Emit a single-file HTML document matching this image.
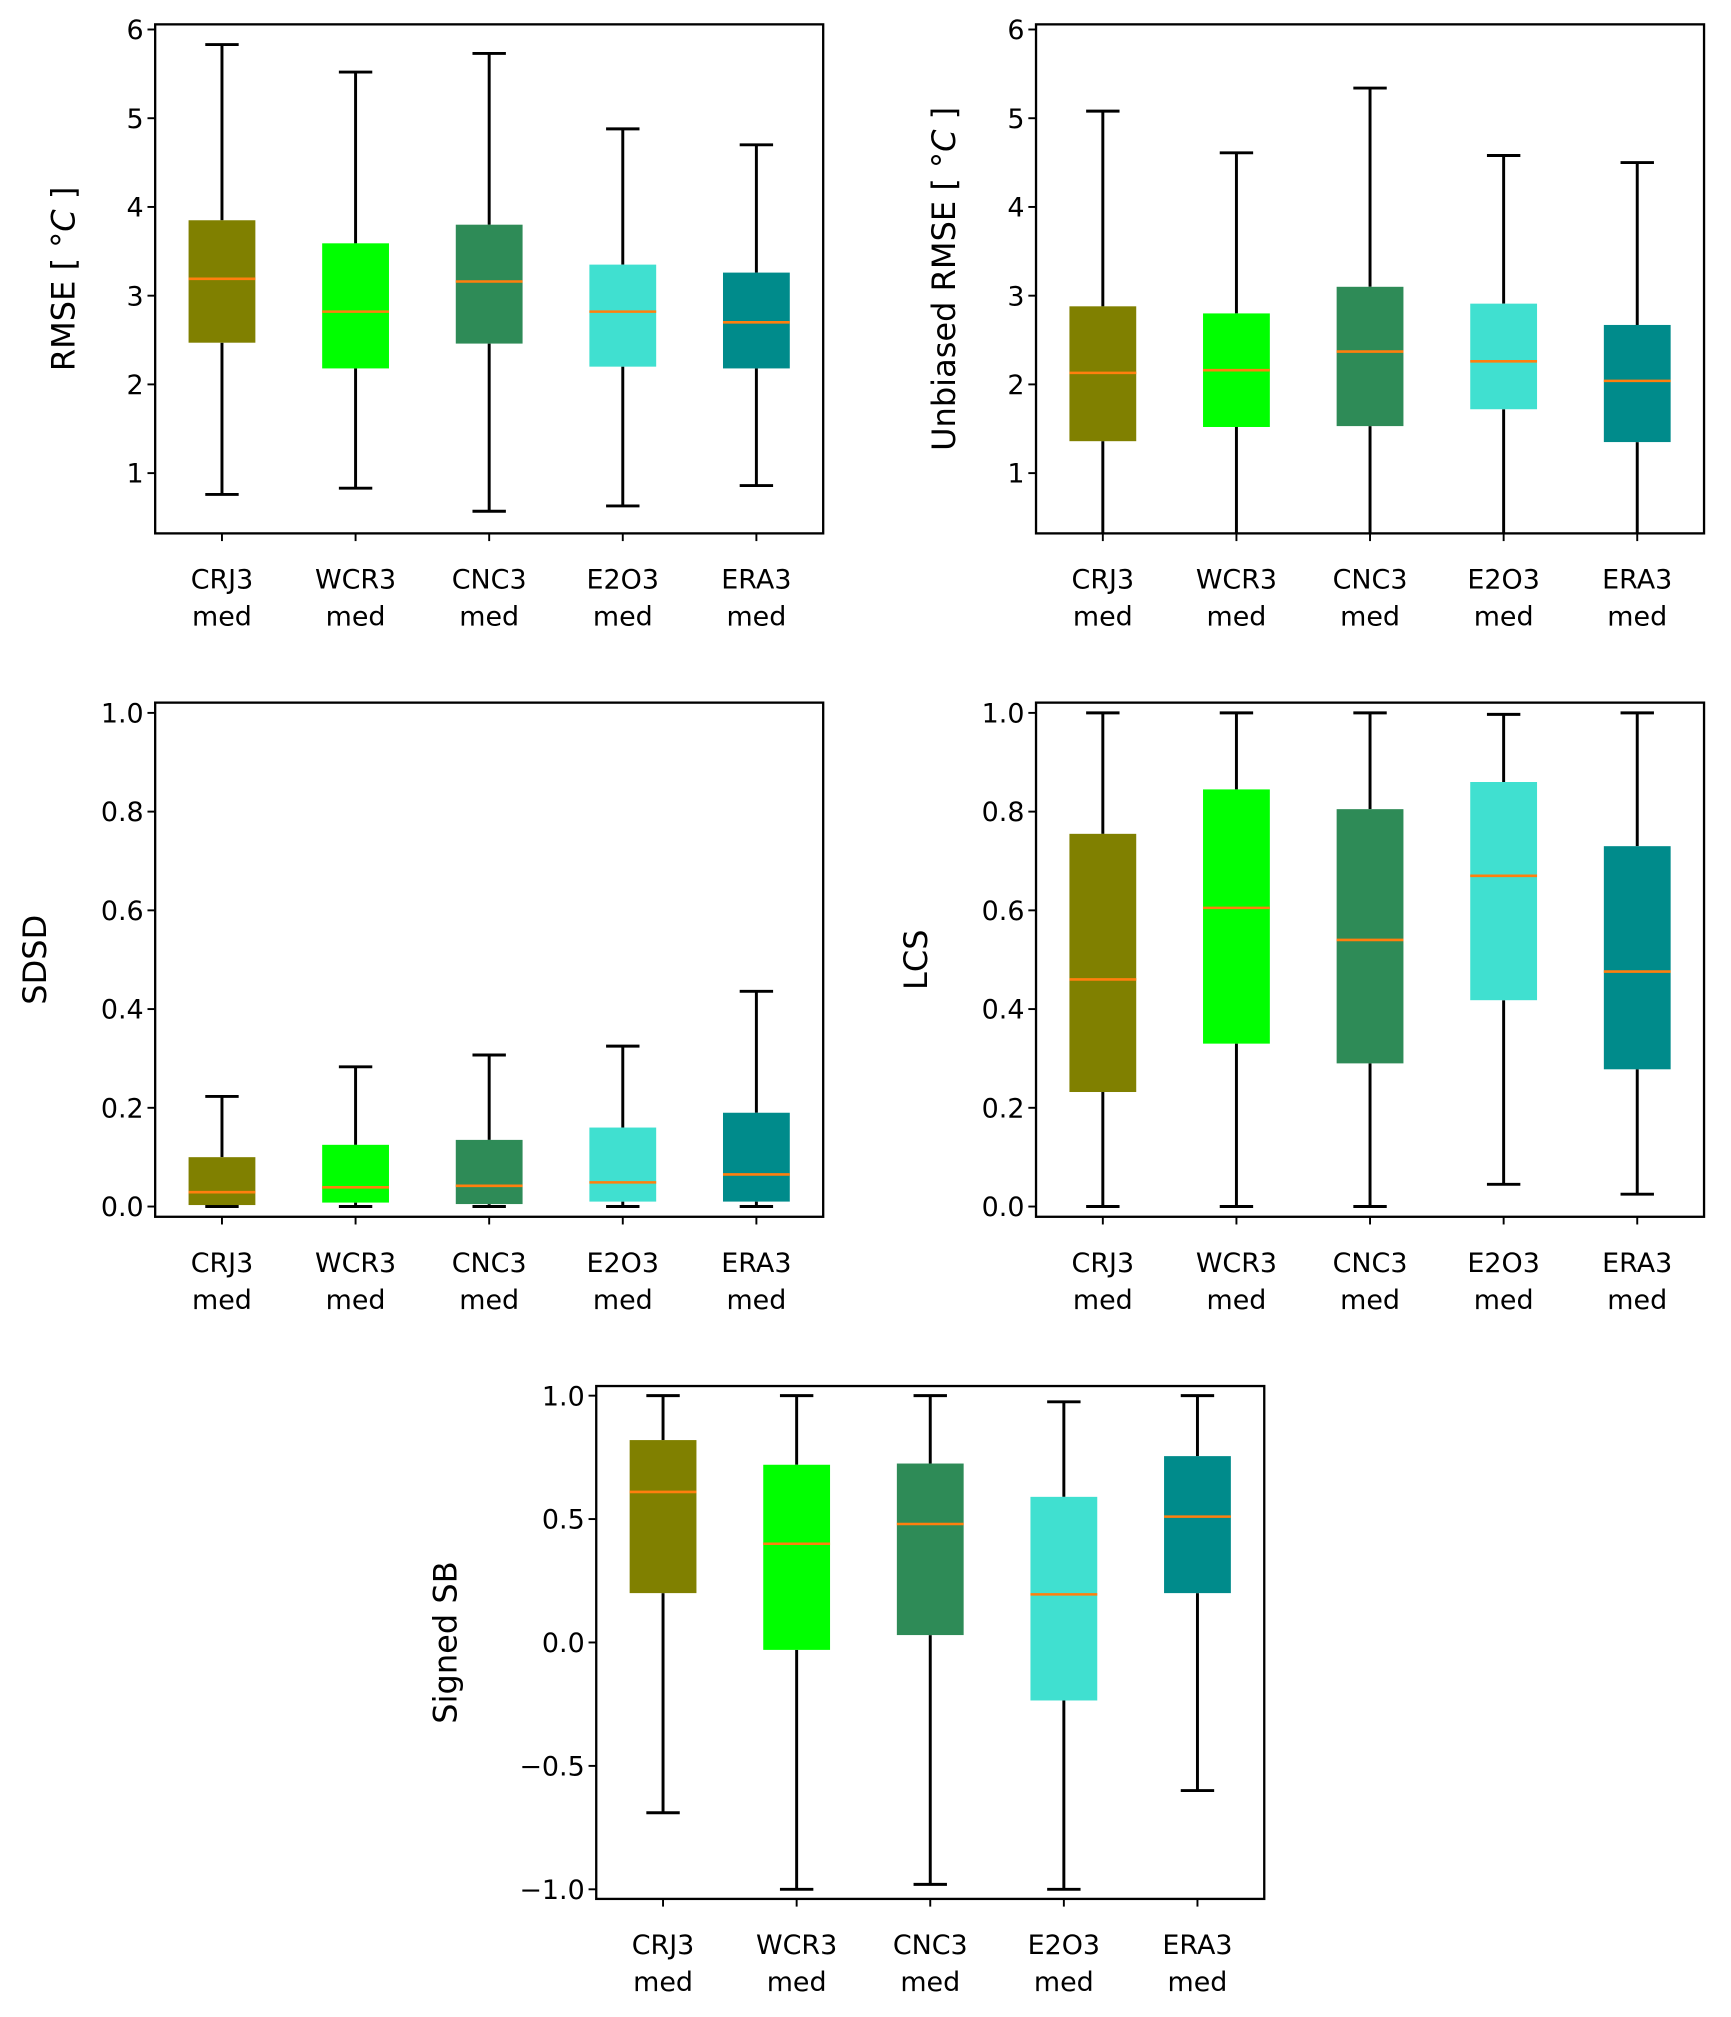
<!DOCTYPE html>
<html><head><meta charset="utf-8"><style>
html,body{margin:0;padding:0;background:#fff}
svg{display:block}
text{font-family:"DejaVu Sans","Liberation Sans",sans-serif;fill:#000}
</style></head><body>
<svg id="fig" xmlns="http://www.w3.org/2000/svg" width="1731" height="2017" viewBox="0 0 1350 1573.1"></svg>
<script>
const categories = ["CRJ3", "WCR3", "CNC3", "E2O3", "ERA3"];
const colors = ["#808000", "#00ff00", "#2e8b57", "#40e0d0", "#008b8b"];
// [whiskerLow, q1, median, q3, whiskerHigh]
const rmseValues = [[0.76,2.47,3.19,3.85,5.83],[0.83,2.18,2.82,3.59,5.52],[0.57,2.46,3.16,3.80,5.73],[0.63,2.20,2.82,3.35,4.88],[0.86,2.18,2.70,3.26,4.70]];
const ubrmseValues = [[0.05,1.36,2.13,2.88,5.08],[0.05,1.52,2.16,2.80,4.61],[0.05,1.53,2.37,3.10,5.34],[0.05,1.72,2.26,2.91,4.58],[0.05,1.35,2.04,2.67,4.50]];
const sdsdValues = [[0.0,0.003,0.029,0.10,0.223],[0.0,0.008,0.039,0.125,0.283],[0.0,0.005,0.042,0.135,0.307],[0.0,0.01,0.049,0.16,0.325],[0.0,0.01,0.065,0.19,0.436]];
const lcsValues = [[0.0,0.232,0.46,0.755,1.0],[0.0,0.33,0.605,0.845,1.0],[0.0,0.29,0.54,0.805,1.0],[0.045,0.418,0.67,0.86,0.997],[0.025,0.278,0.476,0.73,1.0]];
const sbValues = [[-0.69,0.2,0.61,0.82,1.0],[-1.0,-0.03,0.40,0.72,1.0],[-0.98,0.03,0.48,0.725,1.0],[-1.0,-0.235,0.195,0.59,0.975],[-0.6,0.2,0.51,0.755,1.0]];
const rmseTicks = ["1","2","3","4","5","6"];
const unitTicks = ["0.0","0.2","0.4","0.6","0.8","1.0"];
const sbTicks = ["\u22121.0","\u22120.5","0.0","0.5","1.0"];

const NS="http://www.w3.org/2000/svg";
const fig=document.getElementById('fig');
function mk(tag,attrs,parent){const e=document.createElementNS(NS,tag);for(const k in attrs)e.setAttribute(k,attrs[k]);(parent||fig).appendChild(e);return e;}

function panel(id,L,T,W,H,ymin,ymax,tickVals,tickLabs,vals,ylabel,labelX){
  const g=mk('g',{});
  
  
  const y=v=>T+H-(v-ymin)/(ymax-ymin)*H;
  const x=i=>L+(i+1-0.5)/5*W;
  const cp=mk('clipPath',{id:'clip-'+id},g);
  mk('rect',{x:L,y:T,width:W,height:H},cp);
  const plot=mk('g',{'clip-path':'url(#clip-'+id+')'},g);
  vals.forEach((v,i)=>{
    const cx=x(i),bw=W/5*0.5,cw=W/5*0.25;
    const bg=mk('g',{},plot);
    
    
    mk('line',{x1:cx,x2:cx,y1:y(v[0]),y2:y(v[1]),stroke:'#000','stroke-width':2.3},bg);
    mk('line',{x1:cx,x2:cx,y1:y(v[3]),y2:y(v[4]),stroke:'#000','stroke-width':2.3},bg);
    mk('line',{x1:cx-cw/2,x2:cx+cw/2,y1:y(v[0]),y2:y(v[0]),stroke:'#000','stroke-width':2.3},bg);
    mk('line',{x1:cx-cw/2,x2:cx+cw/2,y1:y(v[4]),y2:y(v[4]),stroke:'#000','stroke-width':2.3},bg);
    mk('rect',{x:cx-bw/2,y:y(v[3]),width:bw,height:y(v[1])-y(v[3]),fill:colors[i]},bg);
    mk('line',{x1:cx-bw/2,x2:cx+bw/2,y1:y(v[2]),y2:y(v[2]),stroke:'#ff7f0e','stroke-width':2},bg);
  });
  const fr=mk('rect',{x:L,y:T,width:W,height:H,fill:'none',stroke:'#000','stroke-width':1.8},g);
  
  
  tickVals.forEach((tv,k)=>{
    const yy=y(tv);
    mk('line',{x1:L-6,x2:L,y1:yy,y2:yy,stroke:'#000','stroke-width':1.5},g);
    const t=mk('text',{x:L-9,y:yy+7.5,'text-anchor':'end','font-size':21},g);
    t.textContent=tickLabs[k];
    
    
  });
  categories.forEach((c,i)=>{
    const cx=x(i);
    mk('line',{x1:cx,x2:cx,y1:T+H,y2:T+H+6,stroke:'#000','stroke-width':1.5},g);
    const t1=mk('text',{x:cx,y:T+H+43,'text-anchor':'middle','font-size':21},g);
    t1.textContent=c;
    
    
    const t2=mk('text',{x:cx,y:T+H+72,'text-anchor':'middle','font-size':21},g);
    t2.textContent='med';
    
    
  });
  const yl=mk('text',{x:labelX,y:T+H/2,'text-anchor':'middle','font-size':25,transform:'rotate(-90 '+labelX+' '+(T+H/2)+')'},g);
  yl.innerHTML=ylabel;
  
  
}
const p1=[1,2,3,4,5,6];
panel('rmse',121,19,521,397,1-(416-369)/69.2,1+(369-19)/69.2,p1,rmseTicks,rmseValues,'RMSE [ <tspan font-style="italic">°C</tspan> ]',58);
panel('ubrmse',808,19,521,397,1-(416-369)/69.2,1+(369-19)/69.2,p1,rmseTicks,ubrmseValues,'Unbiased RMSE [ <tspan font-style="italic">°C</tspan> ]',745);
const u=[0,0.2,0.4,0.6,0.8,1.0];
panel('sdsd',121,548,521,401,-(949-941)/385,(941-548)/385,u,unitTicks,sdsdValues,'SDSD',36);
panel('lcs',808,548,521,401,-(949-941)/385,(941-548)/385,u,unitTicks,lcsValues,'LCS',723);
panel('signed-sb',465,1081,521,400,-(1481-1281)/192.5,(1281-1081)/192.5,[-1,-0.5,0,0.5,1],sbTicks,sbValues,'Signed SB',356);
</script>
</body></html>
